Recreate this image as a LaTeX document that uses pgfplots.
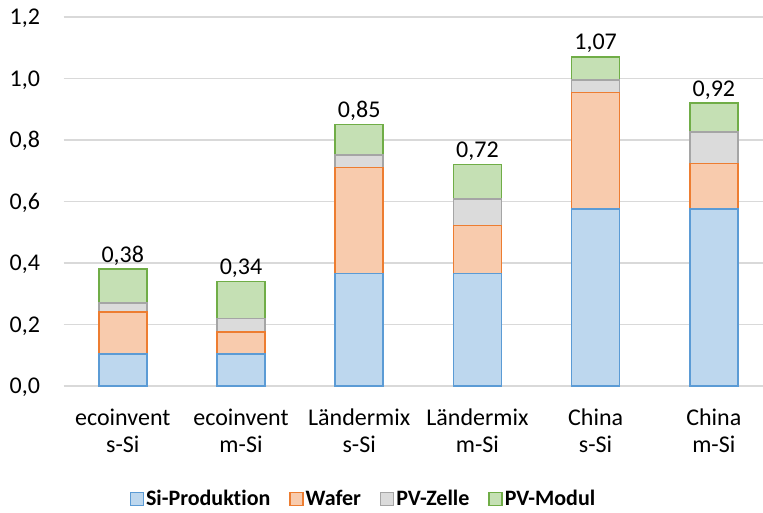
\documentclass[border=0pt]{standalone}
\usepackage{pgfplots}
\usepackage{pgfplotstable}
\usepackage{fontspec}
\setmainfont{Carlito}[Ligatures=NoCommon]
\pgfplotsset{compat=1.18}

\definecolor{siFill}{HTML}{BDD7EE}\definecolor{siLine}{HTML}{5B9BD5}
\definecolor{wfFill}{HTML}{F8CBAD}\definecolor{wfLine}{HTML}{ED7D31}
\definecolor{zeFill}{HTML}{DBDBDB}\definecolor{zeLine}{HTML}{A5A5A5}
\definecolor{moFill}{HTML}{C5E0B4}\definecolor{moLine}{HTML}{70AD47}
\definecolor{gridc}{HTML}{D9D9D9}

% Beitrag der Prozessschritte je Szenario
\pgfplotstableread{
x   si     waf    zel    mod    total
0   0.105  0.135  0.029  0.111  0.38
1   0.105  0.071  0.044  0.120  0.34
2   0.366  0.345  0.040  0.099  0.85
3   0.366  0.156  0.086  0.112  0.72
4   0.576  0.378  0.041  0.075  1.07
5   0.576  0.148  0.103  0.093  0.92
}\datatable

\pgfplotsset{frame/.style={
  at={(63.7bp,-386bp)}, anchor=south west,
  scale only axis, width=699.3bp, height=369bp,
  xmin=-0.5, xmax=5.416, ymin=0, ymax=1.2,
  /pgf/number format/assume math mode=true}}

\begin{document}
\begin{tikzpicture}
\begin{axis}[
  frame,
  ybar stacked, bar width=0.406,
  ytick={0,0.2,...,1.2},
  xtick=data,
  xticklabels={{ecoinvent\\s-Si},{ecoinvent\\m-Si},{Ländermix\\s-Si},{Ländermix\\m-Si},{China\\s-Si},{China\\m-Si}},
  axis line style={draw=none},
  major tick length=0pt,
  ymajorgrids, grid style={draw=gridc, line width=1.3bp},
  yticklabel={\pgfmathprintnumber[fixed,fixed zerofill,precision=1,use comma]{\tick}},
  yticklabel style={font=\fontsize{24bp}{27bp}\selectfont, anchor=east, inner sep=0pt, text height=15.5bp, text depth=0pt, xshift=-23.5bp},
  xticklabel style={font=\fontsize{24bp}{27bp}\selectfont, align=center, anchor=north, inner sep=0pt, yshift=-23bp},
  every axis plot/.append style={line width=1.7bp},
  legend style={at={(0.4287,-0.306)}, anchor=center, draw=none, fill=none,
    font=\fontsize{22bp}{24bp}\selectfont\bfseries,
    legend columns=-1,
    /tikz/every even column/.append style={column sep=17bp},
    nodes={inner sep=2bp}},
  legend image code/.code={\draw[#1, line width=1.3bp] (0bp,-6.5bp) rectangle (13bp,6.5bp);},
]
\addplot[fill=siFill, draw=siLine] table[x=x, y=si] {\datatable};
\addlegendentry{Si-Produktion}
\addplot[fill=wfFill, draw=wfLine] table[x=x, y=waf] {\datatable};
\addlegendentry{Wafer}
\addplot[fill=zeFill, draw=zeLine] table[x=x, y=zel] {\datatable};
\addlegendentry{PV-Zelle}
\addplot[fill=moFill, draw=moLine] table[x=x, y=mod] {\datatable};
\addlegendentry{PV-Modul}
\end{axis}
% Summenwerte über den Säulen
\begin{axis}[frame, hide axis]
\addplot[draw=none, mark=none, point meta=explicit,
  nodes near coords={\pgfmathprintnumber[fixed,fixed zerofill,precision=2,use comma]{\pgfplotspointmeta}},
  every node near coord/.append style={font=\fontsize{24bp}{27bp}\selectfont, anchor=south, inner sep=0pt, outer sep=0pt, text height=15.5bp, text depth=0pt, text=black, yshift=7bp}]
  table[x=x, y=total, meta=total] {\datatable};
\end{axis}
\pgfresetboundingbox
\useasboundingbox (0,0) rectangle (763bp,-513bp);
\end{tikzpicture}
\end{document}
